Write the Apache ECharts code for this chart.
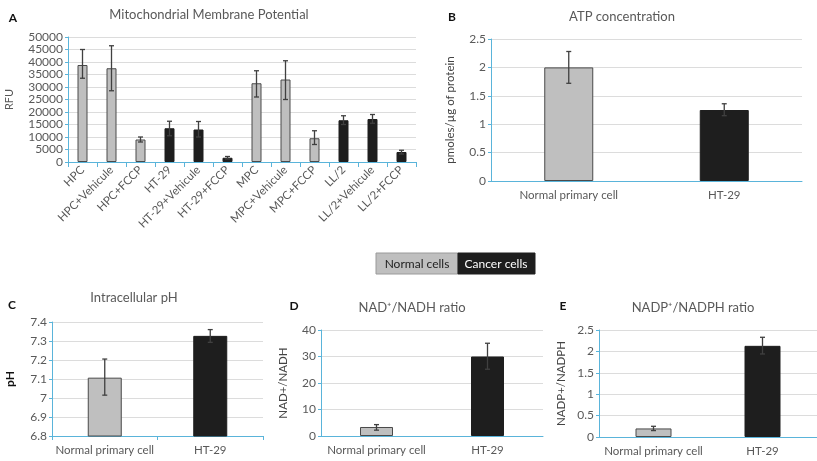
<!DOCTYPE html>
<html>
<head>
<meta charset="utf-8">
<script src="https://cdn.jsdelivr.net/npm/echarts@6/dist/echarts.min.js"></script>
<style>
  html, body { margin: 0; padding: 0; background: #fff; }
  #chart { width: 817px; height: 461px; }
</style>
</head>
<body>
<div id="chart"></div>
<script>
  // Panel A - mitochondrial membrane potential
  const aCategories = ['HPC', 'HPC+Vehicule', 'HPC+FCCP', 'HT-29', 'HT-29+Vehicule', 'HT-29+FCCP',
    'MPC', 'MPC+Vehicule', 'MPC+FCCP', 'LL/2', 'LL/2+Vehicule', 'LL/2+FCCP'];
  const aValues = [38800, 37500, 9000, 13500, 13000, 1700, 31500, 33000, 9500, 16700, 17200, 4000];
  const aErrLow = [33500, 28500, 8000, 10500, 10000, 1200, 26000, 25000, 7000, 15000, 15500, 3200];
  const aErrHigh = [45000, 46500, 10000, 16300, 16200, 2200, 36500, 40500, 12500, 18500, 19000, 4700];
  const aGroups = ['normal', 'normal', 'normal', 'cancer', 'cancer', 'cancer',
    'normal', 'normal', 'normal', 'cancer', 'cancer', 'cancer'];

  // Panels B-E - two cell types
  const pairCategories = ['Normal primary cell', 'HT-29'];
  const pairGroups = ['normal', 'cancer'];
  const atpValues = [2.0, 1.25];
  const atpErrLow = [1.72, 1.15];
  const atpErrHigh = [2.28, 1.36];
  const phValues = [7.107, 7.327];
  const phErrLow = [7.015, 7.293];
  const phErrHigh = [7.205, 7.36];
  const nadValues = [3.4, 30];
  const nadErrLow = [2.2, 25.2];
  const nadErrHigh = [4.3, 35];
  const nadpValues = [0.2, 2.13];
  const nadpErrLow = [0.15, 1.94];
  const nadpErrHigh = [0.25, 2.33];

  const FONT = 'Lato, "Liberation Sans", sans-serif';
  const AXIS_BLUE = '#5ab4da';
  const TEXT = '#595959';
  const barStyles = {
    normal: { color: '#bfbfbf', borderColor: '#4a4a4a', borderWidth: 1 },
    cancer: { color: '#1e1e1e', borderColor: '#1e1e1e', borderWidth: 1 },
  };

  const grids = [
    { left: 68, top: 37, width: 348, height: 125 },
    { left: 491, top: 39, width: 311, height: 142 },
    { left: 52, top: 322, width: 211, height: 114 },
    { left: 321, top: 330, width: 222, height: 106 },
    { left: 599, top: 330, width: 218, height: 107 },
  ];

  function xAxis(idx, cats, opts) {
    return Object.assign({
      type: 'category',
      gridIndex: idx,
      data: cats,
      axisLine: { lineStyle: { color: AXIS_BLUE, width: 1 } },
      axisTick: { show: false },
      axisLabel: { color: TEXT, fontSize: 11.5, fontFamily: FONT, margin: 8, interval: 0, hideOverlap: false },
    }, opts || {});
  }

  function yAxis(idx, min, max, interval, name, nameGap, nameStyle) {
    return {
      type: 'value',
      gridIndex: idx,
      min: min,
      max: max,
      interval: interval,
      name: name,
      nameLocation: 'middle',
      nameGap: nameGap,
      nameTextStyle: Object.assign({ color: TEXT, fontSize: 11, fontFamily: FONT }, nameStyle || {}),
      axisLine: { show: true, lineStyle: { color: AXIS_BLUE, width: 1 } },
      axisTick: { show: true, length: 3, lineStyle: { color: AXIS_BLUE } },
      axisLabel: {
        color: TEXT, fontSize: 12, fontFamily: FONT, margin: 5,
        showMinLabel: true, showMaxLabel: true,
        formatter: v => String(+v.toFixed(2)),
      },
      splitLine: { lineStyle: { color: '#dcdcdc', width: 1 } },
    };
  }

  function barSeries(idx, values, groups, width) {
    return {
      type: 'bar',
      xAxisIndex: idx,
      yAxisIndex: idx,
      barWidth: width,
      data: values.map((v, i) => ({ value: v, itemStyle: barStyles[groups[i]] })),
      z: 2,
    };
  }

  function errorSeries(idx, low, high) {
    return {
      type: 'custom',
      xAxisIndex: idx,
      yAxisIndex: idx,
      z: 5,
      encode: { x: 0, y: [1, 2] },
      data: low.map((l, i) => [i, l, high[i]]),
      renderItem: function (params, api) {
        const top = api.coord([api.value(0), api.value(2)]);
        const bottom = api.coord([api.value(0), api.value(1)]);
        const cap = 2.5;
        const style = { stroke: '#404040', lineWidth: 1.3 };
        return {
          type: 'group',
          children: [
            { type: 'line', shape: { x1: top[0], y1: top[1], x2: bottom[0], y2: bottom[1] }, style: style },
            { type: 'line', shape: { x1: top[0] - cap, y1: top[1], x2: top[0] + cap, y2: top[1] }, style: style },
            { type: 'line', shape: { x1: bottom[0] - cap, y1: bottom[1], x2: bottom[0] + cap, y2: bottom[1] }, style: style },
          ],
        };
      },
    };
  }

  function label(x, y, text, opts) {
    return {
      type: 'text',
      x: x,
      y: y,
      style: Object.assign({
        text: text,
        fill: TEXT,
        font: '13px ' + FONT,
        textAlign: 'center',
        textVerticalAlign: 'middle',
      }, opts || {}),
    };
  }

  const letterStyle = { fill: '#111', font: 'bold 12px ' + FONT };

  const chart = echarts.init(document.getElementById('chart'));
  chart.setOption({
    animation: false,
    grid: grids,
    xAxis: [
      xAxis(0, aCategories, {
        axisTick: { show: true, length: 5, lineStyle: { color: AXIS_BLUE } },
        axisLabel: { color: TEXT, fontSize: 11.5, fontFamily: FONT, rotate: 45, interval: 0, margin: 6 },
      }),
      xAxis(1, pairCategories),
      xAxis(2, pairCategories, { axisTick: { show: true, length: 4, lineStyle: { color: AXIS_BLUE } } }),
      xAxis(3, pairCategories),
      xAxis(4, pairCategories),
    ],
    yAxis: [
      yAxis(0, 0, 50000, 5000, 'RFU', 53),
      yAxis(1, 0, 2.5, 0.5, 'pmoles/µg of protein', 35, { fontSize: 11.5, color: '#444' }),
      yAxis(2, 6.8, 7.4, 0.1, 'pH', 36, { color: '#111', fontWeight: 'bold', fontSize: 12 }),
      yAxis(3, 0, 40, 10, 'NAD+/NADH', 32, { fontSize: 11.5, color: '#444' }),
      yAxis(4, 0, 2.5, 0.5, 'NADP+/NADPH', 32, { fontSize: 11.5, color: '#444' }),
    ],
    series: [
      barSeries(0, aValues, aGroups, 10),
      errorSeries(0, aErrLow, aErrHigh),
      barSeries(1, atpValues, pairGroups, 49),
      errorSeries(1, atpErrLow, atpErrHigh),
      barSeries(2, phValues, pairGroups, 34),
      errorSeries(2, phErrLow, phErrHigh),
      barSeries(3, nadValues, pairGroups, 33),
      errorSeries(3, nadErrLow, nadErrHigh),
      barSeries(4, nadpValues, pairGroups, 36),
      errorSeries(4, nadpErrLow, nadpErrHigh),
    ],
    graphic: [
      label(13, 18, 'A', letterStyle),
      label(209, 15, 'Mitochondrial Membrane Potential'),
      label(452, 17, 'B', letterStyle),
      label(622, 17, 'ATP concentration'),
      label(12, 305, 'C', letterStyle),
      label(134, 298, 'Intracellular pH'),
      label(294, 306, 'D', letterStyle),
      label(412, 308, 'NAD⁺/NADH ratio'),
      label(563, 306, 'E', letterStyle),
      label(693, 308, 'NADP⁺/NADPH ratio'),
      // legend box
      { type: 'rect', shape: { x: 376, y: 253, width: 82, height: 21 }, style: { fill: '#bfbfbf', stroke: '#9a9a9a', lineWidth: 1 } },
      { type: 'rect', shape: { x: 458, y: 253, width: 77, height: 21 }, style: { fill: '#1e1e1e', stroke: '#1e1e1e', lineWidth: 1 } },
      label(417, 264, 'Normal cells', { fill: '#222', font: '12px ' + FONT }),
      label(496, 264, 'Cancer cells', { fill: '#fff', font: '12px ' + FONT }),
    ],
  });
</script>
</body>
</html>
